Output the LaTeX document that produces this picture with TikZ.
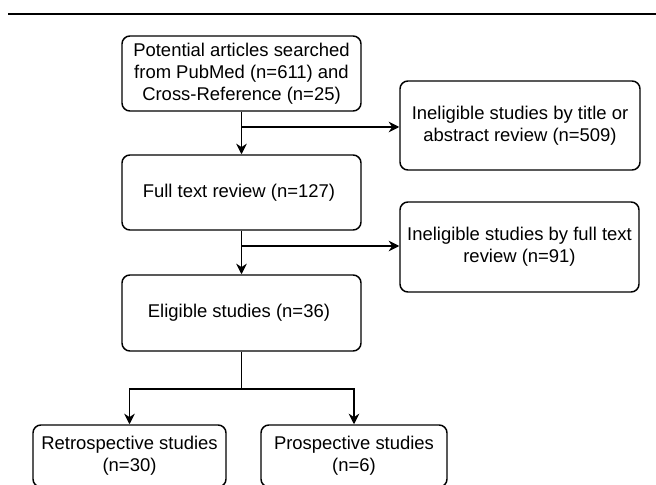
\documentclass[tikz,border=0pt]{standalone}
\usepackage{fontspec}
\setmainfont{Liberation Sans}
\usepackage{tikz}
\usetikzlibrary{arrows.meta, positioning, calc}

\begin{document}
\begin{tikzpicture}[
  stagebox/.style={draw, rounded corners=4.5pt, line width=0.85pt, align=center, inner sep=0pt, font=\fontsize{10.5}{12.6}\selectfont},
  flow/.style={line width=0.85pt, -{Stealth[length=6pt, width=6pt]}}
]
  \useasboundingbox (0,0) rectangle (13.12,-9.7);
  \clip (0,0) rectangle (13.12,-9.7);

  % rule at the top
  \draw[line width=1.2pt] (0.16,-0.28) -- (13.12,-0.28);

  \node[stagebox, minimum width=4.78cm, minimum height=1.5cm] (search) at (4.83,-1.47) {
    Potential articles searched\\
    from PubMed (n=611) and\\
    Cross-Reference (n=25)
  };
  \node[stagebox, minimum width=4.8cm, minimum height=1.78cm] (exclTitle) at (10.4,-2.51) {
    Ineligible studies by title or\\
    abstract review (n=509)
  };
  \node[stagebox, minimum width=4.78cm, minimum height=1.5cm] (fulltext) at (4.83,-3.85) {
    Full text review (n=127)
  };
  \node[stagebox, minimum width=4.78cm, minimum height=1.8cm] (exclFull) at (10.39,-4.94) {
    Ineligible studies by full text\\
    review (n=91)
  };
  \node[stagebox, minimum width=4.78cm, minimum height=1.52cm] (eligible) at (4.83,-6.26) {
    Eligible studies (n=36)
  };
  \node[stagebox, minimum width=3.86cm, minimum height=1.24cm] (retro) at (2.59,-9.12) {
    Retrospective studies\\
    (n=30)
  };
  \node[stagebox, minimum width=3.72cm, minimum height=1.24cm] (prosp) at (7.08,-9.12) {
    Prospective studies\\
    (n=6)
  };

  \coordinate (branchA) at (4.83,-2.54);
  \coordinate (branchB) at (4.83,-4.92);
  \coordinate (split) at (4.83,-7.78);

  \draw[flow] (search.south) -- (fulltext.north);
  \draw[flow] (branchA) -- (exclTitle.west |- branchA);
  \draw[flow] (fulltext.south) -- (eligible.north);
  \draw[flow] (branchB) -- (exclFull.west |- branchB);
  \draw[line width=0.85pt] (eligible.south) -- (split);
  \draw[flow] (split) -| (retro.north);
  \draw[flow] (split) -| (prosp.north);
\end{tikzpicture}
\end{document}
